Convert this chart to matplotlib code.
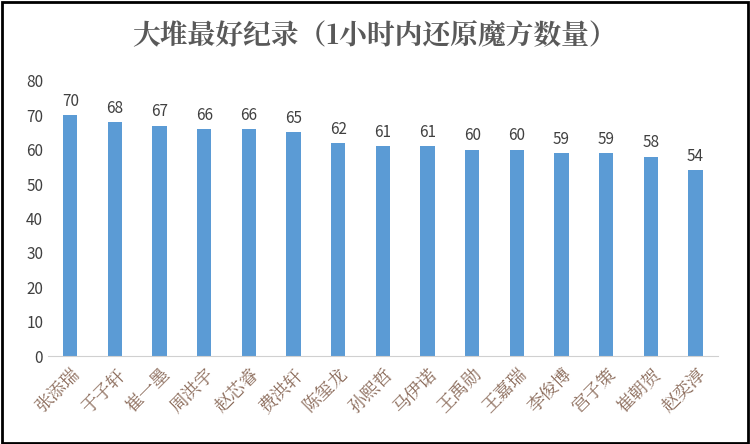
import matplotlib
matplotlib.use("Agg")
import matplotlib.pyplot as plt

names = ["张添瑞","于子轩","崔一墨","周洪宇","赵芯睿","费洪轩","陈玺龙","孙熙哲","马伊诺","王禹勋","王嘉瑞","李俊博","宫子策","崔朝贺","赵奕淳"]
values = [70,68,67,66,66,65,62,61,61,60,60,59,59,58,54]

plt.rcParams['font.family'] = ['Noto Sans CJK SC', 'DejaVu Sans']
serif = ['Noto Serif CJK SC', 'Noto Sans CJK SC', 'DejaVu Sans']
fig = plt.figure(figsize=(7.5,4.44), dpi=100)
ax = fig.add_axes([0.064, 0.198, 0.893, 0.62])
x = range(len(names))
ax.bar(x, values, width=0.32, color="#5B9BD5")
for xi, v in zip(x, values):
    ax.text(xi, v+1.5, str(v), ha="center", va="bottom", fontsize=11, color="#404040")
ax.set_ylim(0, 80)
ax.set_xlim(-0.5, len(names)-0.5)
ax.set_yticks(range(0, 81, 10))
ax.set_xticks(list(x))
ax.set_xticklabels(names, rotation=45, ha="right", rotation_mode="anchor", fontsize=13, color="#8B6B5A", family=serif)
ax.tick_params(axis="y", labelsize=11, labelcolor="#404040", length=0)
ax.tick_params(axis="x", length=0, pad=6)
for s in ["top","right","left"]:
    ax.spines[s].set_visible(False)
ax.spines["bottom"].set_color("#D0D0D0")
fig.text(0.5, 0.92, "大堆最好纪录（1小时内还原魔方数量）", ha="center", va="center", fontsize=20, color="#595959",
         family=serif, weight="bold")
fig.patches.append(plt.Rectangle((0.002,0.003),0.995,0.993, transform=fig.transFigure, fill=False, edgecolor="black", linewidth=2))
fig.savefig("out.png", dpi=100)
